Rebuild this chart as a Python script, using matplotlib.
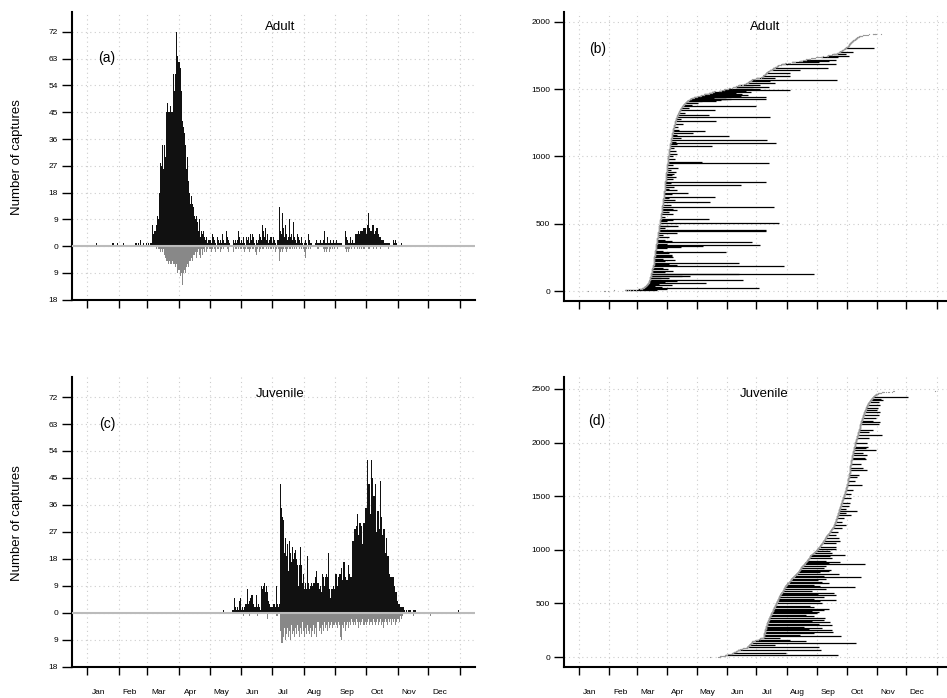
import numpy as np
import matplotlib
matplotlib.use("Agg")
import matplotlib.pyplot as plt

plt.rcParams['font.family'] = ['Liberation Sans', 'DejaVu Sans']

month_names = ['Jan', 'Feb', 'Mar', 'Apr', 'May', 'Jun',
               'Jul', 'Aug', 'Sep', 'Oct', 'Nov', 'Dec']
month_starts = [0, 31, 59, 90, 120, 151, 181, 212, 243, 273, 304, 334, 365]

# ---- adults: daily first captures (up) and recaptures (down), from day 60
adult_start = 60
adult_stray_days = [9, 25, 26, 30, 36, 47, 48, 50, 52, 52, 55, 58]
adult_new = [1, 0, 1, 1,
             7, 4, 5, 5, 7, 10, 9, 18, 28, 27, 34, 26, 34, 30,
             45, 48, 45, 45, 47, 45, 45, 58, 52, 58, 72, 64, 62, 60, 52,
             42, 40, 38, 34, 26, 30, 22, 18,
             14, 17, 14, 13, 10, 9, 10, 8, 5, 9, 3, 5,
             4, 5, 3, 2, 3, 1, 2, 2,
             2, 1, 4, 3, 2, 1, 0, 3, 2, 1, 2, 1, 4, 2, 1, 5, 3, 2, 1, 0,
             0, 0, 2, 1, 2, 1, 2, 5, 3, 1, 2, 1, 3, 1, 0, 3, 2,
             3, 1, 4, 2, 4, 3, 1, 0, 2, 1,
             2, 4, 3, 2, 7, 5, 3, 6, 2, 4,
             1, 2, 3, 1, 3, 2, 1, 0, 2, 2,
             13, 5, 4, 11, 6, 3, 7, 4, 2, 3,
             9, 3, 4, 2, 8, 3, 2, 1, 4, 3,
             2, 1, 3, 1, 0, 1, 2, 1, 0, 4, 2,
             1, 1, 0, 0, 0, 1, 2, 1, 1, 2, 1, 1, 2, 5, 1, 1, 3, 1, 1, 2,
             1, 1, 2, 1, 1, 2, 1, 1, 1, 1, 1, 0, 0, 0, 5, 3, 2, 1, 1, 3,
             1, 2, 1, 1,
             4, 4, 4, 5, 4, 5, 5, 5, 6, 6, 4, 7, 11, 6, 5, 5, 7, 7, 4, 5,
             6, 6, 4, 3, 3, 2, 2, 2, 1, 1, 1, 1, 1, 1, 0, 0, 0, 2, 1, 2,
             1, 0, 0, 0, 0, 1, 0]
adult_recap = [0, 0, 0, 0, 0, 0, 0, 0,
               1, 0, 1, 1, 2, 1, 2, 1, 3, 4, 5, 5, 6, 5, 6, 6, 5, 6, 6, 7,
               6, 9, 8, 10, 9, 13, 9, 8, 9, 7, 6, 7, 5, 5, 4, 5, 3, 3, 2, 4,
               2, 1, 3, 4, 1,
               3, 1, 2, 0, 2, 1, 0, 1,
               1, 2, 1, 0, 1, 2, 0, 1, 1, 0, 2, 1, 0, 1, 0, 0, 1, 2, 0, 0,
               0, 0, 2, 0, 1, 1, 0, 1, 0, 1, 1, 0, 1, 2, 1, 0, 1, 1, 2, 1,
               0, 1, 1, 0, 2, 3, 1, 0, 2, 1, 0, 1, 1, 0, 0, 1, 0, 1, 0, 1,
               0, 1, 0, 2, 1, 0, 1, 5, 2, 1, 2, 1, 0, 1, 2, 1, 0, 1, 1, 0,
               1, 0, 1, 0, 1, 0, 0, 1, 0, 1, 0, 1, 2, 4, 1, 0, 1, 0,
               1, 0, 0, 0, 0, 0, 0, 1, 0, 0, 0, 0,
               1, 2, 1, 2, 1, 0, 2, 1, 0, 1, 0, 1, 0, 0, 1, 0, 0, 0, 0, 0,
               0, 0, 1, 2, 1, 2, 1, 0, 1, 0, 0, 1, 0, 0, 1, 0, 1, 0, 1, 0,
               1, 0, 0, 0, 1, 1, 0, 0, 0, 1, 0, 0, 1, 0, 0, 0, 1, 0, 0, 0,
               0, 0, 0, 0, 1, 0, 0, 0, 0, 0, 0, 0, 0, 0, 0, 0, 0, 0, 0]

# ---- juveniles, from day 134
juv_start = 134
juv_stray_days = [363]
juv_recap_stray_days = [336]
juv_new = [1, 0, 0, 0, 0, 0, 0, 0, 1, 1, 5, 2, 1, 2, 1, 4, 5, 1, 2, 1,
           2, 3, 3, 8, 3, 4, 5, 6, 6, 3, 2, 2, 6, 2, 3, 2, 1, 9, 8, 9,
           10, 7, 9, 7, 4, 3, 2, 2, 3, 3, 2, 9, 3, 2, 3,
           43, 35, 32, 31, 20, 25, 19, 23, 14, 24, 20, 17, 22, 18, 20,
           21, 18, 16, 9, 16, 22, 16, 10, 13, 8, 10, 8, 19, 10, 8,
           9, 10, 9, 10, 10, 12, 14, 10, 8, 9, 7, 13, 12, 9, 12,
           13, 12, 20, 8, 5, 8, 8, 9, 8, 13, 13, 9, 12, 13, 13, 15, 11, 17,
           17, 12, 11, 11, 16, 13, 12, 12, 24, 24, 28, 28, 29, 33, 26, 30,
           30, 29,
           23, 30, 35, 35, 51, 43, 43, 33, 51, 45, 39, 39, 43, 27, 34, 34,
           28, 44, 32, 26, 28, 28, 20, 25, 19, 19, 13, 12, 12, 12, 12, 9,
           7, 7, 4, 3, 3, 2, 2, 2, 2, 1, 0, 1, 0, 1, 1, 0, 0, 1, 1, 1]
juv_recap = [0, 0, 0, 0, 0, 0, 0, 0, 0, 0, 0, 0, 0, 0, 0, 0, 0, 0, 0, 1,
             0, 0, 0, 0, 0, 1, 0, 0, 0, 0, 0, 0, 0, 1, 0, 0, 0, 0, 0, 0,
             0, 0, 0, 2, 0, 0, 0, 0, 0, 0, 0, 1, 1, 0, 0,
             6, 10, 10, 8, 5, 9, 7, 5, 8, 6, 9, 4, 7, 6, 8, 5, 7, 4, 6, 8,
             5, 7, 3, 6, 8, 5, 7, 4, 6, 7, 5, 8, 6, 4, 7, 5, 8, 3, 6, 5,
             7, 4, 6, 3, 5, 4, 6, 3, 5, 4, 3, 5, 4, 4, 3, 4, 5, 3, 4, 8,
             9, 4, 5, 3, 6, 4, 3, 5, 3, 4, 2, 3, 4, 3, 4, 2, 3, 5, 3, 4,
             3, 2, 4, 3, 4, 3, 2, 4, 3, 3, 4, 2, 3, 4, 3, 2, 4, 3, 2, 4,
             3, 5, 3, 2, 3, 4, 2, 3, 2, 4, 2, 3, 2, 4, 3, 2,
             2, 3, 1, 2, 1, 0, 0, 0, 0, 0, 0, 0, 0, 0, 1, 0, 0]

# ---- recapture spans: individual (rank by first capture) and last capture day
adult_line_idx = [25, 60, 84, 109, 124, 129, 164, 186, 208, 258, 270, 290, 335,
                  345, 362, 444, 454, 486, 506, 538, 570, 600, 625, 662, 700,
                  732, 749, 786, 809, 849, 885, 918, 955, 958, 1022, 1077, 1102,
                  1126, 1151, 1171, 1191, 1265, 1293, 1307, 1345, 1375, 1399,
                  1427, 1444, 1461, 1494, 1518, 1568, 1598, 1655, 1685, 1709,
                  1742, 1774, 1809,
                  5, 12, 18, 30, 40, 48, 55, 70, 78, 95, 100, 115, 140, 150,
                  170, 195, 200, 220, 232, 240, 250, 280, 300, 320, 330, 350,
                  370, 380, 400, 420, 430, 470, 480, 520, 530, 550, 590, 610,
                  640, 680, 690, 720, 760, 770, 800, 830, 860, 870, 900, 940,
                  980, 1000, 1040, 1060, 1090, 1110, 1140, 1160, 1200, 1220,
                  1240, 1280, 1320, 1360, 1380, 1410, 1415, 1420, 1425, 1430,
                  1435, 1440, 1450, 1460, 1470, 1478, 1486, 1505, 1520, 1530,
                  1545, 1560, 1580, 1620, 1640, 1700, 1720, 1750, 1760]
adult_line_end = [184, 130, 167, 113, 240, 163, 91, 209, 163, 95, 95, 150, 126,
                  185, 177, 191, 191, 101, 204, 133, 96, 100, 199, 134, 139,
                  111, 100, 165, 191, 99, 99, 101, 194, 125, 100, 136, 201,
                  192, 153, 116, 129, 140, 195, 133, 139, 181, 121,
                  191, 191, 166, 215, 194, 263, 215, 254, 262, 255,
                  264, 280, 301,
                  80, 75, 90, 85, 78, 95, 82, 88, 100, 92, 84, 105, 88, 96,
                  86, 100, 92, 88, 98, 86, 96, 92, 86, 90, 104, 90,
                  95, 88, 92, 86, 100, 88, 92, 90, 96, 88, 92, 96,
                  94, 98, 92, 95, 92, 97, 94, 96, 95, 97, 94, 96,
                  98, 96, 99, 97, 100, 99, 104, 100, 102, 101,
                  106, 104, 108, 112, 115, 125, 140, 145, 150, 155,
                  138, 150, 165, 172, 160, 175, 170, 185, 178, 185,
                  200, 195, 200, 215, 225, 245, 262, 275, 272]

juv_line_idx = [19, 40, 65, 90, 134, 152, 199, 236, 252, 295, 326, 364, 407,
                451, 500, 532, 578, 600, 650, 687, 743, 774, 811, 864, 889,
                954, 1007, 1107, 1169, 1228, 1324, 1365, 1408, 1604, 1744,
                1766, 1847, 1931, 1962, 2071, 2102, 2170, 2189, 2257, 2282,
                2350, 2428,
                110, 160, 175, 210, 220, 260, 270, 280, 310, 340, 350, 380,
                390, 420, 430, 440, 470, 480, 520, 545, 560, 590, 615, 630,
                660, 670, 700, 720, 730, 760, 790, 800, 830, 850, 875, 900,
                920, 940, 970, 990, 1030, 1060, 1080, 1140, 1200, 1260, 1300,
                1340, 1380, 1440, 1480, 1520, 1560, 1640, 1680, 1700, 1800,
                1860, 1880, 1900, 1950, 2000, 2040, 2120, 2200, 2230, 2300,
                2320, 2380, 2400, 2410]
juv_line_end = [264, 211, 247, 245, 283, 232, 267, 259, 258, 258, 256, 251, 243,
                255, 248, 262, 262, 260, 282, 255, 288, 265, 257, 292, 266,
                271, 262, 265, 264, 272, 278, 284, 275, 289, 294,
                290, 293, 303, 295, 309, 296, 306, 307, 306, 307,
                307, 336,
                200, 215, 205, 225, 240, 235, 248, 230, 245, 238, 250, 240,
                232, 245, 238, 250, 240, 236, 246, 240, 250, 244, 238, 252,
                246, 240, 248, 244, 252, 250, 246, 255, 250, 252, 255, 252,
                258, 256, 258, 256, 262, 262, 266, 262, 268, 268, 270,
                272, 272, 276, 278, 278, 280, 282, 284, 286, 288,
                292, 294, 290, 293, 294, 296, 300, 300, 303, 304,
                305, 306, 310, 308]


def daily(start, values, strays=()):
    counts = np.zeros(366)
    counts[start:start + len(values)] += np.array(values, dtype=float)
    for d in strays:
        counts[d] += 1
    return counts


def style(ax, yticks, ylabels, ylim, xlim, fs, months=False):
    ax.set_xlim(xlim)
    ax.set_ylim(ylim)
    ax.set_yticks(yticks)
    ax.set_yticklabels(ylabels, fontsize=fs)
    ax.set_xticks(month_starts)
    ax.set_xticklabels([])
    for s in ['top', 'right']:
        ax.spines[s].set_visible(False)
    for s in ['left', 'bottom']:
        ax.spines[s].set_linewidth(1.5)
    ax.tick_params(axis='y', length=7, width=1, pad=3)
    ax.tick_params(axis='x', which='major', length=6, width=1)
    ax.grid(True, which='major', color='0.8', ls=(0, (1, 3)), lw=0.8)
    ax.set_axisbelow(True)
    if months:
        ax.set_xticks(np.array(month_starts[:12]) + 11, minor=True)
        ax.set_xticklabels(month_names, minor=True, fontsize=6)
        ax.tick_params(axis='x', which='minor', length=0, pad=16)


def bar_panel(ax, new, recap, months):
    days = np.arange(366)
    m = new > 0
    ax.bar(days[m], new[m], width=1.0, color='#111111', lw=0, zorder=2)
    m = recap > 0
    ax.bar(days[m], -recap[m], width=1.0, color='#888888', lw=0, zorder=2)
    ax.axhline(0, color='#bbbbbb', lw=1.5, zorder=3)
    ticks = [-18, -9, 0, 9, 18, 27, 36, 45, 54, 63, 72]
    style(ax, ticks, [str(abs(t)) for t in ticks], (-18.1, 78.7),
          (-14.7, 379.6), 6, months)


def span_panel(ax, new, idx, end, yticks, ylim, months):
    first = np.repeat(np.arange(366), new.astype(int))
    idx = np.array(idx)
    starts = first[idx]
    ends = np.maximum(np.array(end), starts)
    ax.hlines(idx, starts, ends, color='black', lw=0.9, zorder=2)
    ax.plot(first, np.arange(len(first)), ls='none', marker='s', ms=0.8,
            mec='none', color='0.6', zorder=3)
    style(ax, yticks, [str(t) for t in yticks], ylim, (-15.3, 375.1), 6,
          months)


adult_daily = daily(adult_start, adult_new, adult_stray_days)
adult_recap_daily = daily(adult_start, adult_recap)
juv_daily = daily(juv_start, juv_new, juv_stray_days)
juv_recap_daily = daily(juv_start, juv_recap, juv_recap_stray_days)

fig = plt.figure(figsize=(9.47, 6.98), dpi=100)
ax_a = fig.add_axes([0.0760, 0.5702, 0.4256, 0.4126])
ax_b = fig.add_axes([0.5956, 0.5688, 0.4040, 0.4140])
ax_c = fig.add_axes([0.0760, 0.0444, 0.4256, 0.4155])
ax_d = fig.add_axes([0.5956, 0.0444, 0.4040, 0.4155])

bar_panel(ax_a, adult_daily, adult_recap_daily, False)
bar_panel(ax_c, juv_daily, juv_recap_daily, True)
span_panel(ax_b, adult_daily, adult_line_idx, adult_line_end,
           [0, 500, 1000, 1500, 2000], (-74, 2074), False)
span_panel(ax_d, juv_daily, juv_line_idx, juv_line_end,
           [0, 500, 1000, 1500, 2000, 2500], (-93, 2612), True)

fig.text(0.2957, 0.961, 'Adult', ha='center', va='center', fontsize=9.5)
fig.text(0.808, 0.961, 'Adult', ha='center', va='center', fontsize=9.5)
fig.text(0.2957, 0.4355, 'Juvenile', ha='center', va='center', fontsize=9.5)
fig.text(0.807, 0.4355, 'Juvenile', ha='center', va='center', fontsize=9.5)
fig.text(0.113, 0.917, '(a)', ha='center', va='center', fontsize=10)
fig.text(0.6315, 0.930, '(b)', ha='center', va='center', fontsize=10)
fig.text(0.113, 0.393, '(c)', ha='center', va='center', fontsize=10)
fig.text(0.630, 0.397, '(d)', ha='center', va='center', fontsize=10)
fig.text(0.018, 0.775, 'Number of captures', rotation=90, ha='center',
         va='center', fontsize=9.5)
fig.text(0.018, 0.251, 'Number of captures', rotation=90, ha='center',
         va='center', fontsize=9.5)

fig.savefig('out.png', dpi=100)
